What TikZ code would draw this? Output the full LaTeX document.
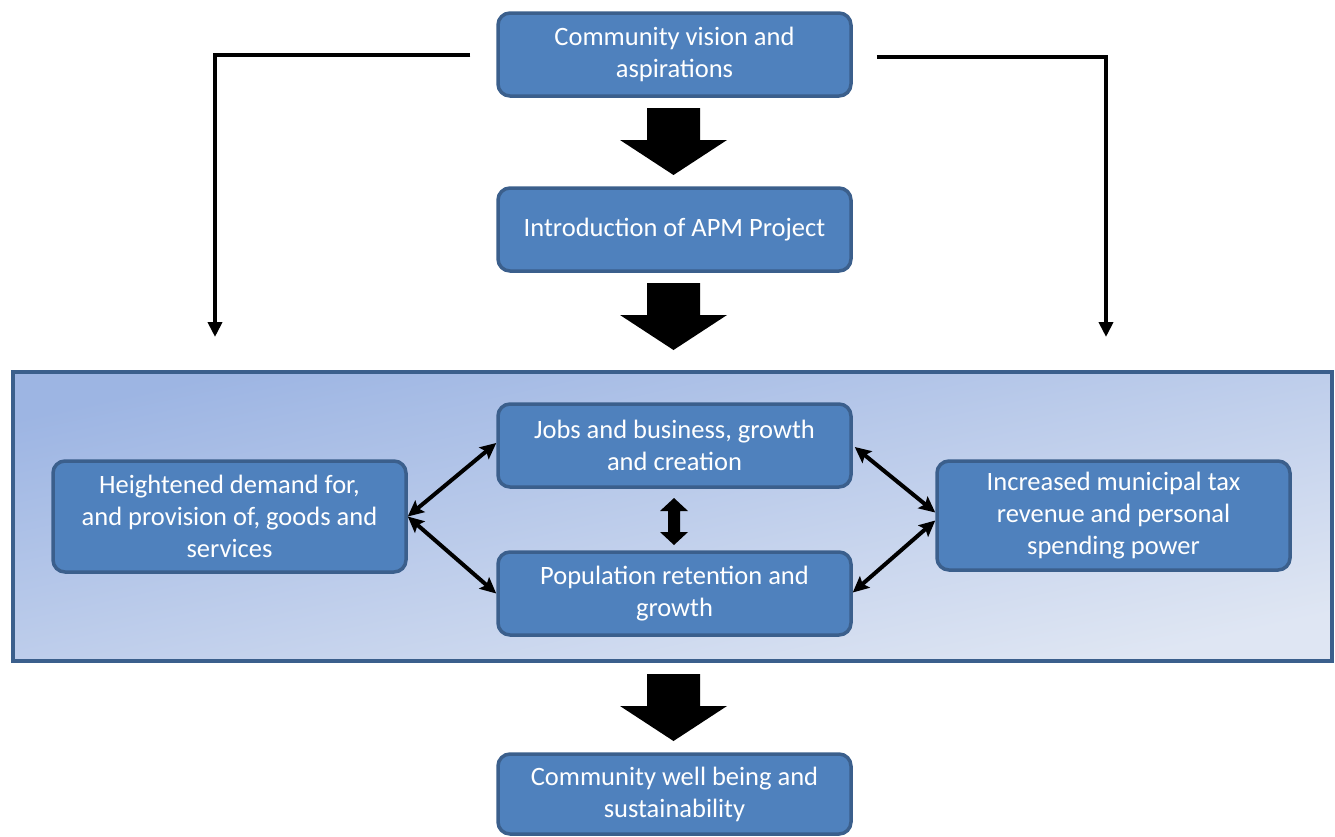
\documentclass[tikz,border=0pt]{standalone}
\usepackage{fontspec}
\setmainfont{Carlito}
\usetikzlibrary{arrows.meta,calc}
\definecolor{boxfill}{HTML}{4F81BD}
\definecolor{boxline}{HTML}{3B5F8C}
\definecolor{panA}{HTML}{9DB5E3}
\definecolor{panB}{HTML}{DFE6F3}
\newcommand\bigdown[1]{\fill #1 ++(-26.5,0) -- ++(53,0) -- ++(0,32) -- ++(27,0) -- ++(-53.5,35) -- ++(-53.5,-35) -- ++(27,0) -- cycle;}
\begin{document}
\begin{tikzpicture}[x=1pt,y=-1pt,
  box/.style={draw=boxline, line width=3.5pt, fill=boxfill, rounded corners=12pt,
    text=white, align=center, minimum width=353pt, minimum height=83pt,
    font=\fontsize{26.5}{32}\selectfont, inner sep=0pt},
  conn/.style={line width=4pt, -{Triangle[width=14pt,length=15pt]}},
  dbl/.style={line width=4pt, {Stealth[length=16pt,width=15pt,inset=3pt]}-{Stealth[length=16pt,width=15pt,inset=3pt]}}]
\useasboundingbox (0,0) rectangle (1335,836);
% panel
\shade[top color=panA, bottom color=panB, shading angle=12.4] (13,372) rectangle (1332,661);
\draw[boxline, line width=3.5pt] (13,372) rectangle (1332,661);
% boxes
\node[box] (top) at (674.5,54.5) {Community vision and\\aspirations};
\node[box] (apm) at (674.5,229.5) {Introduction of APM Project};
\node[box] (jobs) at (674.5,445.5) {Jobs and business, growth\\and creation};
\node[box] (pop) at (674.5,593.5) {Population retention and\\growth};
\node[box, minimum height=111pt] (left) at (229.5,516.5) {Heightened demand for,\\and provision of, goods and\\services};
\node[box, minimum height=109pt] (right) at (1113.5,515.5) {Increased municipal tax\\revenue and personal\\spending power};
\node[box, minimum height=80pt] (bottom) at (674.5,794) {Community well being and\\sustainability};
% big arrows
\bigdown{(673.5,108)}
\bigdown{(673.5,283)}
\bigdown{(673.5,674)}
% side connectors
\coordinate (lend) at (215,337);
\coordinate (rend) at (1106,337);
\draw[conn] ([xshift=-26pt]top.west) -| (lend);
\draw[conn] ([xshift=24pt,yshift=-2pt]top.east) -| (rend);
% diagonal connectors
\draw[dbl] (left.east) -- ([yshift=2.5pt]jobs.west);
\draw[dbl] (left.east) -- ([yshift=0pt]pop.west);
\draw[dbl] ([xshift=2pt,yshift=-1.5pt]jobs.east) -- ([yshift=3pt]right.west);
\draw[dbl] ([yshift=-5pt]right.west) -- ([yshift=1pt]pop.east);
% vertical double arrow
\fill (674,498) -- (688,511) -- (680,511) -- (680,532) -- (688,532) -- (674,545) -- (660,532) -- (668,532) -- (668,511) -- (660,511) -- cycle;
\end{tikzpicture}
\end{document}
